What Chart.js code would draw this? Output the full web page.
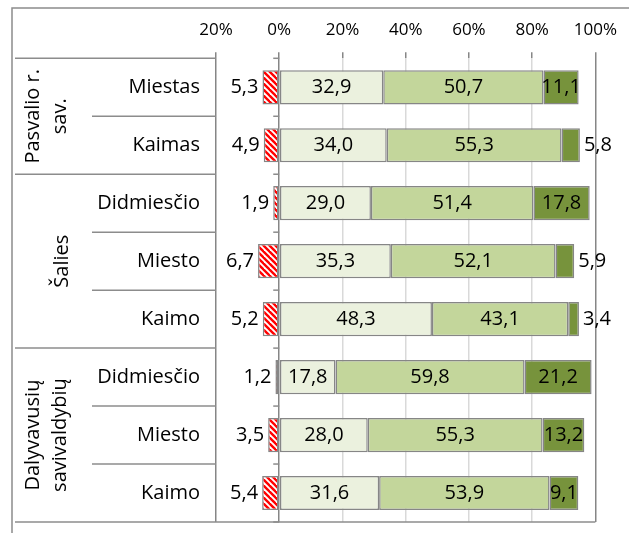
<!DOCTYPE html>
<html><head><meta charset="utf-8">
<script src="https://cdn.jsdelivr.net/npm/chart.js@4"></script>
<style>html,body{margin:0;padding:0;background:#fff;overflow:hidden}canvas{display:block}</style>
</head><body>
<canvas id="c" width="629" height="533"></canvas>
<script>
const categories = ['Miestas','Kaimas','Didmiesčio','Miesto','Kaimo','Didmiesčio','Miesto','Kaimo'];
const groupLabels = [['Pasvalio r.','sav.'],['Šalies'],['Dalyvavusių','savivaldybių']];
const groupSizes = [2,3,3];
const negValues = [-5.3,-4.9,-1.9,-6.7,-5.2,-1.2,-3.5,-5.4];
const lightValues = [32.9,34.0,29.0,35.3,48.3,17.8,28.0,31.6];
const midValues = [50.7,55.3,51.4,52.1,43.1,59.8,55.3,53.9];
const darkValues = [11.1,5.8,17.8,5.9,3.4,21.2,13.2,9.1];
const darkOutside = [false,true,false,true,true,false,false,false];
const xMin = -20, xMax = 100, xStep = 20;

const FONT = '"Open Sans", "DejaVu Sans", sans-serif';
const canvas = document.getElementById('c');
const mainCtx = canvas.getContext('2d');

function stripePattern(){
  const t = document.createElement('canvas'); t.width = 6; t.height = 6;
  const g = t.getContext('2d');
  g.fillStyle = '#ffffff'; g.fillRect(0,0,6,6);
  g.strokeStyle = '#ff0000'; g.lineWidth = 2.4;
  for (const o of [-6,0,6]) { g.beginPath(); g.moveTo(o-2,-2); g.lineTo(o+8,8); g.stroke(); }
  return mainCtx.createPattern(t,'repeat');
}

const fmt = v => Math.abs(v).toFixed(1).replace('.', ',');

const labelPlugin = {
  id: 'barLabels',
  afterDatasetsDraw(chart){
    const ctx = chart.ctx; ctx.save();
    ctx.font = '20px ' + FONT; ctx.fillStyle = '#000'; ctx.textBaseline = 'middle';
    chart.data.datasets.forEach((ds, di) => {
      const meta = chart.getDatasetMeta(di);
      meta.data.forEach((bar, i) => {
        const v = ds.data[i];
        const l = Math.min(bar.x, bar.base), r = Math.max(bar.x, bar.base);
        if (di === 0) { ctx.textAlign = 'right'; ctx.fillText(fmt(v), l - 4, bar.y); }
        else if (di === 3 && darkOutside[i]) { ctx.textAlign = 'left'; ctx.fillText(fmt(v), r + 4, bar.y); }
        else { ctx.textAlign = 'center'; ctx.fillText(fmt(v), (l + r) / 2, bar.y); }
      });
    });
    ctx.restore();
  }
};

const tablePlugin = {
  id: 'table',
  afterDraw(chart){
    const {ctx, chartArea: a, scales: {x, y}} = chart;
    const n = categories.length;
    const bound = i => i === 0 ? a.top : (i === n ? a.bottom : (y.getPixelForValue(i-1) + y.getPixelForValue(i)) / 2);
    const starts = [0]; let acc = 0; groupSizes.forEach(s => { acc += s; starts.push(acc); });
    ctx.save();
    ctx.strokeStyle = '#8c8c8c'; ctx.lineWidth = 1.5;
    ctx.strokeRect(12, 8, 800, 800);
    const x0 = x.getPixelForValue(0);
    for (let i = 0; i <= n; i++) {
      const yy = bound(i);
      const isGroup = starts.includes(i);
      ctx.beginPath();
      ctx.moveTo(isGroup ? 15 : 92, yy);
      ctx.lineTo(i === n ? a.right : a.left, yy);
      ctx.stroke();
      ctx.beginPath(); ctx.moveTo(x0 - 6, yy); ctx.lineTo(x0, yy); ctx.stroke();
    }
    ctx.fillStyle = '#000'; ctx.textBaseline = 'middle';
    ctx.font = '20px ' + FONT; ctx.textAlign = 'right';
    categories.forEach((c, i) => ctx.fillText(c, 200, y.getPixelForValue(i)));
    ctx.textAlign = 'center';
    groupLabels.forEach((lines, g) => {
      const cy = (bound(starts[g]) + bound(starts[g+1])) / 2;
      const cx = lines.length > 1 ? 47 : 62;
      ctx.save(); ctx.translate(cx, cy); ctx.rotate(-Math.PI / 2);
      lines.forEach((t, k) => ctx.fillText(t, 0, (k - (lines.length - 1) / 2) * 27));
      ctx.restore();
    });
    ctx.restore();
  }
};

const edge = '#868686';
new Chart(canvas, {
  type: 'bar',
  data: {
    labels: categories,
    datasets: [
      { data: negValues, backgroundColor: stripePattern() },
      { data: lightValues, backgroundColor: '#ebf1de' },
      { data: midValues, backgroundColor: '#c3d69b' },
      { data: darkValues, backgroundColor: '#77933c' }
    ].map(d => Object.assign(d, { borderColor: edge, borderWidth: 1.5, borderSkipped: false, barPercentage: 0.59, categoryPercentage: 1 }))
  },
  options: {
    indexAxis: 'y',
    responsive: false,
    animation: false,
    events: [],
    layout: { padding: { left: 216, right: 31, top: 0, bottom: 11 } },
    plugins: { legend: { display: false }, tooltip: { enabled: false } },
    scales: {
      x: {
        position: 'top', stacked: true, min: xMin, max: xMax,
        afterFit(s){ s.height = 58.3; },
        border: { display: false },
        grid: {
          color: c => (c.tick && [xMin, 0, xMax].includes(c.tick.value)) ? edge : '#d9d9d9',
          tickColor: edge, tickLength: 6, lineWidth: 1.5
        },
        ticks: { stepSize: xStep, padding: 12, color: '#000', font: { family: FONT, size: 17 }, maxRotation: 0, autoSkip: false,
          callback: v => Math.abs(v) + '%' }
      },
      y: { stacked: true, display: false }
    }
  },
  plugins: [labelPlugin, tablePlugin]
});
</script>
</body></html>
